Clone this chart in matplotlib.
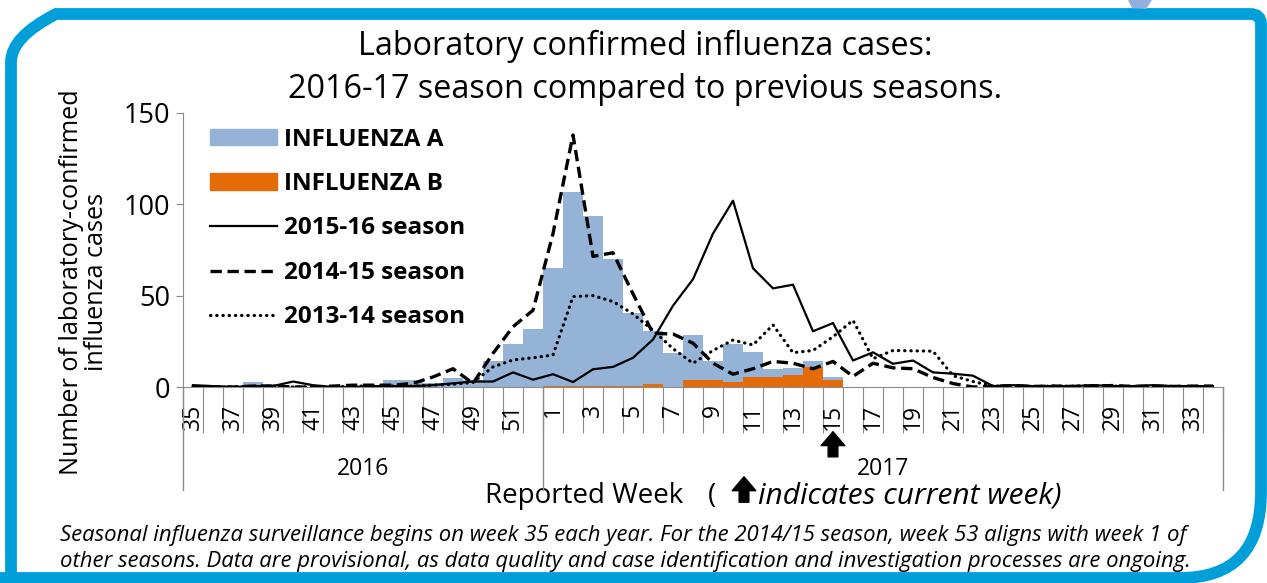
import numpy as np
import matplotlib.pyplot as plt
from matplotlib.patches import Patch, PathPatch, Polygon
from matplotlib.lines import Line2D
from matplotlib.path import Path

plt.rcParams['font.family'] = ['Open Sans', 'DejaVu Sans']

# week categories: surveillance year runs week 35 (2016) to week 34 (2017)
weeks = list(range(35, 53)) + list(range(1, 35))
years = ["2016", "2017"]
year_sizes = [18, 34]
current_week = 15

# 2016-17 season, bars (only up to current week)
flu_a = [0, 0, 0, 2.5, 1.5, 0.5, 0, 0, 0, 0, 4, 4, 2, 5, 4, 14, 23.5, 32,
         65, 107, 93.5, 70, 40.5, 30.5, 18.5, 28.5, 14.5, 23.5, 19, 10, 10.6, 14, 5.3]
flu_b = [0] * 18 + [0.8, 0.8, 0.8, 0.8, 0.8, 1.8, 0, 4, 4, 2.7, 5.4, 5.4, 6.6, 11, 4]

# previous seasons
s2015_16 = [1, 0.5, 0, 0.5, 0.5, 3, 1, 0, 0, 0.5, 0.5, 0.5, 1, 2, 3, 3, 8, 4,
            7, 2.7, 9.7, 11, 16, 26, 44.5, 59, 84, 102, 65, 54, 56, 30.5, 35, 14.5, 19,
            12.7, 14.5, 8, 7.3, 6.2, 0.5, 1, 0.5, 0.5, 0.5, 1, 0.5, 0.5, 1, 0.5, 0.5, 0.5]
s2014_15 = [0, 0, 0, 0.5, 0.5, 0, 0, 0.5, 1, 1, 1, 2, 5.5, 10, 2, 18.4, 33, 42,
            84, 138, 71.5, 73.5, 51, 29.4, 29, 24, 13, 7, 10, 14, 13, 10, 14, 5.8, 13,
            10.5, 10, 5.2, 1.9, 0, 0.3, 0.8, 0.3, 0.5, 0.3, 0.5, 0.8, 0.3, 0.5, 0.3, 0.5, 0.5]
s2013_14 = [0.5, 0, 0, 0.5, 0.5, 0, 0, 0, 0.5, 0.5, 0.5, 0.5, 1, 1.5, 2.5, 11, 14.8, 16,
            17.5, 49.5, 50, 46.8, 40, 31, 21, 13, 20, 25.7, 23, 34, 18.8, 20, 27.5, 36.5, 15.5,
            20, 19.8, 19.6, 6.2, 3, 0.5, 0.5, 0.3, 0.5, 0.5, 0.8, 0.5, 0.3, 0.5, 0.3, 0.3, 0.3]

W, H = 1267, 583
BLUE_A = '#95B3D7'
ORANGE_B = '#E36C09'
FRAME = '#009FDA'
GRAY = '#8C8C8C'
ARROW = 'simple,head_length=0.5,head_width=0.85,tail_width=0.35'

fig = plt.figure(figsize=(W / 100, H / 100), dpi=100)

# background axes in pixel coords for frame and free text
bg = fig.add_axes([0, 0, 1, 1])
bg.set_xlim(0, W)
bg.set_ylim(H, 0)
bg.axis('off')

# rounded frame
verts = [(11, 600), (11, 62), (11, 37), (56, 14), (1250, 14), (1261, 14), (1261, 24),
         (1261, 492), (1261, 578), (1180, 578), (-10, 578)]
codes = [Path.MOVETO, Path.LINETO, Path.CURVE3, Path.CURVE3, Path.LINETO, Path.CURVE3, Path.CURVE3,
         Path.LINETO, Path.CURVE3, Path.CURVE3, Path.LINETO]
bg.add_patch(PathPatch(Path(verts, codes), fill=False, ec=FRAME, lw=8.5, capstyle='butt'))
bg.add_patch(Polygon([(1128, 0), (1152, 0), (1146, 9), (1132, 8)], closed=True,
                     fc='#8FB0DD', ec='none'))

ax = fig.add_axes([183 / W, 1 - 387 / H, 1040 / W, 274 / H])
x = np.arange(len(weeks))
ax.bar(x[:len(flu_a)], flu_a, width=1.0, color=BLUE_A, zorder=1)
ax.bar(x[:len(flu_b)], flu_b, width=1.0, color=ORANGE_B, zorder=2)

ax.plot(x, s2015_16, color='black', lw=1.6, zorder=4)
ax.plot(x, s2014_15, color='black', lw=2.4, linestyle=(0, (3.4, 1.7)), zorder=4)
ax.plot(x, s2013_14, color='black', lw=2.3, linestyle=(0, (0.1, 1.85)),
        dash_capstyle='round', zorder=4)

ax.set_xlim(-0.5, len(weeks) - 0.5)
ax.set_ylim(0, 150)
ax.set_yticks([0, 50, 100, 150])
ax.tick_params(axis='y', labelsize=19.5, length=5, color=GRAY, pad=4)

# category axis: boundaries as ticks, labels on odd weeks
ax.set_xticks(np.arange(-0.5, len(weeks)), labels=[])
ax.tick_params(axis='x', which='major', length=33, color=GRAY, direction='out')
ax.set_xticks(x, labels=[str(w) if w % 2 else '' for w in weeks], minor=True)
ax.tick_params(axis='x', which='minor', length=0, labelsize=16.5, pad=12, labelrotation=90)

for s in ['top', 'right']:
    ax.spines[s].set_visible(False)
ax.spines['left'].set_color(GRAY)
ax.spines['bottom'].set_color(GRAY)

# year group separators and labels
start = -0.5
tr = ax.get_xaxis_transform()
ax.plot([start, start], [0, -0.375], transform=tr, clip_on=False, color=GRAY, lw=1)
for yr, n in zip(years, year_sizes):
    ax.plot([start + n, start + n], [0, -0.375], transform=tr, clip_on=False, color=GRAY, lw=1)
    ax.text(start + n / 2, -0.3, yr, transform=tr, ha='center', va='center', fontsize=16.5)
    start += n

# current week arrow
cw = weeks.index(current_week)
ax.annotate('', xy=(cw, -0.153), xycoords=tr, xytext=(cw, -0.265), textcoords=tr,
            arrowprops=dict(arrowstyle=ARROW, fc='black', ec='black', mutation_scale=20))

handles = [Patch(color=BLUE_A), Patch(color=ORANGE_B),
           Line2D([], [], color='black', lw=1.6),
           Line2D([], [], color='black', lw=2.4, linestyle=(0, (3.4, 1.7))),
           Line2D([], [], color='black', lw=2.3, linestyle=(0, (0.1, 1.85)), dash_capstyle='round')]
labels = ['INFLUENZA A', 'INFLUENZA B', '2015-16 season', '2014-15 season', '2013-14 season']
ax.legend(handles, labels, loc='upper left', bbox_to_anchor=(0.012, 1.0), frameon=False,
          prop=dict(size=17.5, weight='bold'), handlelength=2.75, handleheight=0.65,
          handletextpad=0.3, labelspacing=0.84, borderaxespad=0.2)

fig.text(84 / W, 1 - 282 / H, 'Number of laboratory-confirmed\ninfluenza cases', rotation=90,
         ha='center', va='center', fontsize=18.2, linespacing=1.05, multialignment='center')

fig.text(645 / W, 1 - 46 / H, 'Laboratory confirmed influenza cases:', ha='center', va='center',
         fontsize=23.3)
fig.text(645 / W, 1 - 89 / H, '2016-17 season compared to previous seasons.', ha='center',
         va='center', fontsize=23.3)

bg.text(584, 496, 'Reported Week', ha='center', va='center', fontsize=20)
bg.text(708, 496, '(', ha='left', va='center', fontsize=20)
bg.annotate('', xy=(744, 474), xytext=(744, 505),
            arrowprops=dict(arrowstyle=ARROW, fc='black', ec='black', mutation_scale=20))
bg.text(758, 496, 'indicates current week)', ha='left', va='center', fontsize=21.5, style='italic')

bg.text(60, 535, 'Seasonal influenza surveillance begins on week 35 each year. For the 2014/15 season, '
        'week 53 aligns with week 1 of', ha='left', va='center', fontsize=15.9, style='italic')
bg.text(60, 561, 'other seasons. Data are provisional, as data quality and case identification '
        'and investigation processes are ongoing.', ha='left', va='center', fontsize=15.9,
        style='italic')

fig.savefig('out.png', dpi=100)
